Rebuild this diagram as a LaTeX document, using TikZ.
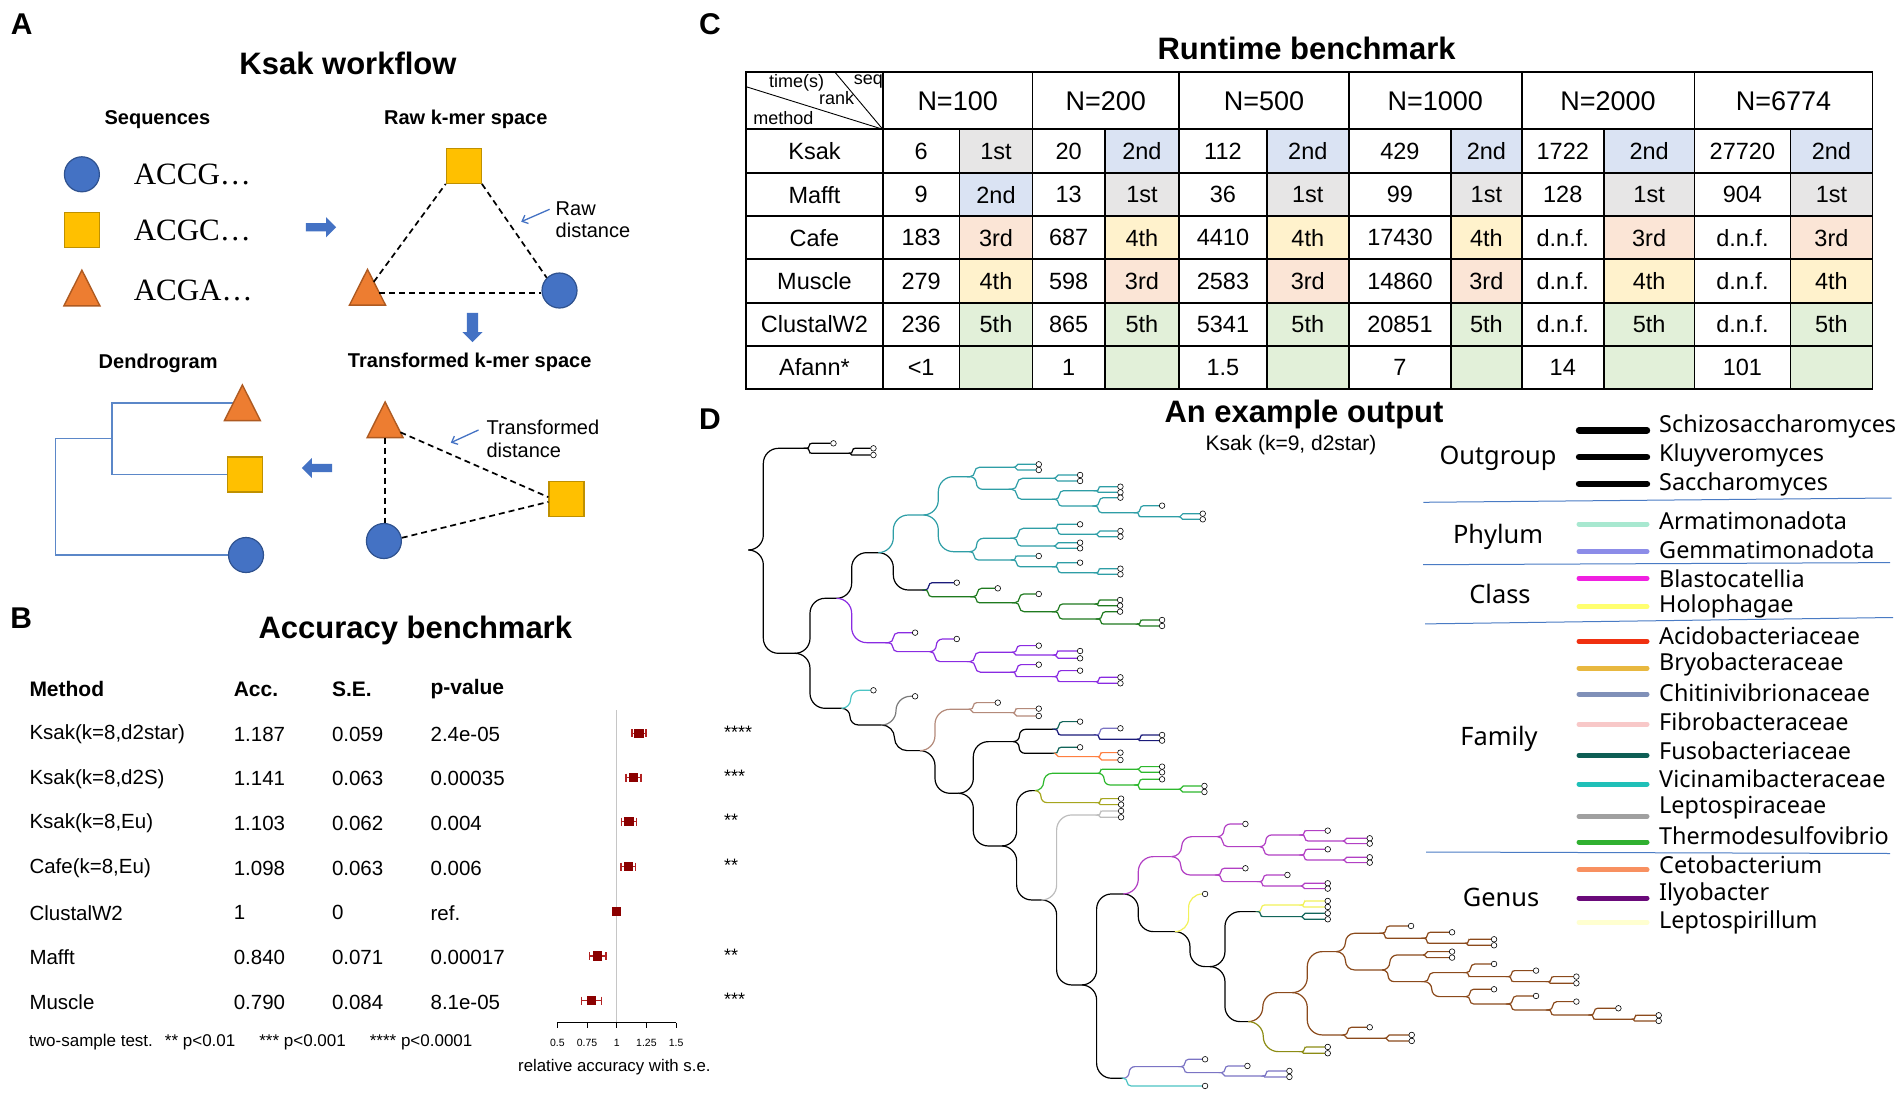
\documentclass[tikz,border=0pt]{standalone}
\usepackage{fontspec}
\setmainfont{Liberation Sans}
\newfontfamily\acgtfont{Liberation Serif}
\newfontfamily\legfont{Noto Sans}
\usetikzlibrary{shapes.arrows,arrows.meta,calc,backgrounds}

\definecolor{ablue}{HTML}{4472C4}
\definecolor{ablueD}{HTML}{2F528F}
\definecolor{agold}{HTML}{FFC000}
\definecolor{agoldD}{HTML}{BF9000}
\definecolor{aorng}{HTML}{ED7D31}
\definecolor{aorngD}{HTML}{AE5A21}
\definecolor{dendro}{HTML}{5B87C8}
\definecolor{dred}{HTML}{8B0000}
\definecolor{ebar}{HTML}{B22222}
\definecolor{rk1st}{HTML}{E7E6E6}
\definecolor{rk2nd}{HTML}{DAE3F3}
\definecolor{rk3rd}{HTML}{FBE5D6}
\definecolor{rk4th}{HTML}{FFF2CC}
\definecolor{rk5th}{HTML}{E2F0D9}
\definecolor{rk}{HTML}{E2F0D9}
\definecolor{sepblue}{HTML}{4A7BC4}
% tree colours
\definecolor{cTeal}{HTML}{2E9EA6}
\definecolor{cNavy}{HTML}{1B1B7A}
\definecolor{cDkGreen}{HTML}{1F7A1F}
\definecolor{cViolet}{HTML}{8A2BE2}
\definecolor{cCyan}{HTML}{4CC4C4}
\definecolor{cGray}{HTML}{7A7A7A}
\definecolor{cRosy}{HTML}{B48A7A}
\definecolor{cDkTeal}{HTML}{12655A}
\definecolor{cOrange}{HTML}{FF7F40}
\definecolor{cGreen}{HTML}{2DB82D}
\definecolor{cOlive}{HTML}{A6A61E}
\definecolor{cLtGray}{HTML}{BDBDBD}
\definecolor{cMagenta}{HTML}{B23FC4}
\definecolor{cYellow}{HTML}{F2F25A}
\definecolor{cBrown}{HTML}{8B4A1C}
\definecolor{cOliveB}{HTML}{8C8C14}
\definecolor{cLav}{HTML}{7B74C4}
% legend colours
\definecolor{lgArm}{HTML}{A8E8D0}
\definecolor{lgGem}{HTML}{8C8CE8}
\definecolor{lgBla}{HTML}{F020E0}
\definecolor{lgHol}{HTML}{FFFF70}
\definecolor{lgAci}{HTML}{F03010}
\definecolor{lgBry}{HTML}{E8B840}
\definecolor{lgChi}{HTML}{8090B8}
\definecolor{lgFib}{HTML}{F8C8C8}
\definecolor{lgFus}{HTML}{0E5E55}
\definecolor{lgVic}{HTML}{20C0B8}
\definecolor{lgLep}{HTML}{A0A0A0}
\definecolor{lgThe}{HTML}{30B030}
\definecolor{lgCet}{HTML}{F89060}
\definecolor{lgIly}{HTML}{6A0A7A}
\definecolor{lgLpl}{HTML}{FFFFD0}

\newcommand{\setfs}[1]{\fontsize{#1}{#1}\selectfont}

% one branch of the cladogram, and one ending in a tip
\newcommand{\twig}[5]{%
  \pgfmathsetmacro\rz{max(0,min(45,abs(#5-#3)/2,(#4-#2)/2))}%
  \pgfmathsetmacro\rr{\rz/3}%
  \draw[branch,color=#1,rounded corners=\rr pt] (#2,#3) -- (#2+\rz,#3) -- (#2+\rz,#5) -- (#4,#5);}
\newcommand{\twigL}[5]{\twig{#1}{#2}{#3}{#4}{#5}\draw[leaf] (#4,#5) ++(2.8pt,0) circle[radius=2.8pt];}
\newcommand{\clade}[3]{%
  \foreach \xa/\ya/\xb/\yb in {#2} {\twig{#1}{\xa}{\ya}{\xb}{\yb}}%
  \foreach \xa/\ya/\xb/\yb in {#3} {\twigL{#1}{\xa}{\ya}{\xb}{\yb}}}

% runtime table
\def\colx{{746.1,882.8,959.5,1032.5,1104.7,1179.2,1266.7,1348.9,1451,1521.7,1603.8,1694.4,1790.4,1872.5}}
\def\rowy{{72.3,129.3,173.3,216,259.3,302.7,346,389}}
\newcommand{\trow}[3]{%
  \pgfmathsetmacro\rya{\rowy[#1]}%
  \pgfmathsetmacro\ryb{\rowy[#1+1]}%
  \pgfmathsetmacro\rym{(\rya+\ryb)/2}%
  \node[cell] (m#1) at (814.45,\rym) {#2};%
  \foreach \t/\rk [count=\j] in {#3} {%
    \pgfmathsetmacro\cxa{\colx[2*\j-1]}%
    \pgfmathsetmacro\cxb{\colx[2*\j]}%
    \pgfmathsetmacro\cxc{\colx[2*\j+1]}%
    \fill[fill=rk\rk] (\cxb,\rya) rectangle (\cxc,\ryb);
    \node[cell] (t#1-\j) at ({(\cxa+\cxb)/2},\rym) {\t};
    \node[cell] (k#1-\j) at ({(\cxb+\cxc)/2},\rym) {\rk};
  }}

\newcommand{\mktri}[3]{%
  \node[trbox] (#1) at (#2,#3) {};
  \filldraw[fill=aorng, draw=aorngD, line width=1.4pt] (#1.south west) -- (#1.south east) -- (#1.north) -- cycle;}

\begin{document}
\begin{tikzpicture}[x=1pt,y=-1pt,
  lbl/.style={font=\bfseries\setfs{30}, inner sep=0pt},
  ttl/.style={font=\bfseries\setfs{31}, inner sep=0pt},
  hdr/.style={font=\bfseries\setfs{20}, inner sep=0pt},
  note/.style={font=\setfs{20}, inner sep=0pt, anchor=west},
  seqt/.style={font=\acgtfont\setfs{31}, inner sep=0pt, anchor=west},
  bub/.style={circle, fill=ablue, draw=ablueD, line width=1.2pt, minimum size=35pt, inner sep=0pt},
  sqr/.style={rectangle, fill=agold, draw=agoldD, line width=1.2pt, minimum size=35pt, inner sep=0pt},
  trbox/.style={rectangle, minimum width=35.6pt, minimum height=35.3pt, inner sep=0pt},
  barr/.style={single arrow, fill=ablue, draw=none, inner xsep=0pt, single arrow head indent=0pt},
  dist/.style={dash pattern=on 6pt off 4pt, line width=1.7pt},
  ptr/.style={-{Straight Barb[length=5pt,width=9pt]}, ablue, line width=1.3pt},
  dend/.style={dendro, line width=1.4pt},
  colh/.style={font=\bfseries\setfs{21}, inner sep=0pt, anchor=west},
  rowt/.style={font=\setfs{20.5}, inner sep=0pt, anchor=west},
  errb/.style={ebar, line width=1.3pt},
  star/.style={font=\setfs{18}, inner sep=0pt, anchor=west},
  tick/.style={font=\setfs{10.5}, inner sep=0pt},
  cell/.style={font=\setfs{23.5}, inner sep=0pt},
  nhead/.style={font=\setfs{27}, inner sep=0pt},
  corner/.style={font=\setfs{18}, inner sep=0pt},
  grid/.style={line width=1.8pt, line cap=rect},
  branch/.style={line width=1.2pt},
  leaf/.style={draw=black, fill=white, line width=0.6pt},
  leg/.style={font=\legfont\setfs{23.4}, inner sep=0pt, anchor=west},
  grp/.style={font=\legfont\setfs{25.4}, inner sep=0pt},
  sep/.style={sepblue, line width=1pt}]
\useasboundingbox (0,0) rectangle (1904,1100);
\begin{pgfonlayer}{background}
\fill[white] (0,0) rectangle (1904,1100);
\end{pgfonlayer}

%% A: workflow
\node[lbl] (la) at (21.7,24) {A};
\node[ttl] (ta) at (348,63.3) {Ksak workflow};
\node[hdr] (hseq) at (157.4,120) {Sequences};
\node[hdr] (hraw) at (465.8,119.3) {Raw k-mer space};
\node[hdr] (hden) at (158.2,363.3) {Dendrogram};
\node[hdr] (htr) at (469.7,362.7) {Transformed k-mer space};

\node[bub] (c1) at (81.9,174.3) {};
\node[sqr] (q1) at (81.9,229.8) {};
\mktri{t1}{81.9}{288}
\node[seqt] (s1) at (133.6,174.3) {ACCG…};
\node[seqt] (s2) at (133.6,230) {ACGC…};
\node[seqt] (s3) at (133.6,290) {ACGA…};

\node[sqr] (q2) at (463.8,165.8) {};
\mktri{t2}{367.5}{287.2}
\node[bub] (c2) at (559.5,290.5) {};
\coordinate (t2r) at ($(t2.north)!0.66!(t2.south east)$);
\draw[dist] ($(t2.north)!0.35!(t2.south east)$) -- (q2.south west);
\draw[dist] (q2.south east) -- (c2.north west);
\draw[dist] (t2r) -- (t2r -| c2.west);
\node[note] (nr1) at (555.5,208.3) {Raw};
\node[note] (nr2) at (555.5,230) {distance};
\coordinate (pr1) at (549.6,209.3);
\coordinate (pr2) at (521.2,221.7);
\draw[ptr] (pr1) -- (pr2);

\node[barr, inner ysep=3.9pt, single arrow head extend=6pt, minimum height=30.3pt] (ar) at (318.9,227.3) {};
\node[barr, inner ysep=5.5pt, single arrow head extend=4.5pt, minimum height=29.3pt, rotate=-90] (ad) at (472.5,324.7) {};
\node[barr, inner ysep=3.9pt, single arrow head extend=6pt, minimum height=30.3pt, rotate=180] (al) at (319,468) {};

\mktri{t3}{385.1}{419.8}
\node[sqr] (q3) at (566.5,499) {};
\node[bub] (c3) at (383.9,541) {};
\draw[dist] ($(t3.north)!0.85!(t3.south east)$) -- ($(q3.south west)!0.55!(q3.north west)$);
\draw[dist] (t3.south) -- (t3.south |- c3.north);
\draw[dist] (c3.10) -- ($(q3.south west)!0.42!(q3.north west)$);
\node[note] (nt1) at (486.4,427.3) {Transformed};
\node[note] (nt2) at (486.4,450.7) {distance};
\coordinate (pt1) at (478.5,430);
\coordinate (pt2) at (450.8,442.7);
\draw[ptr] (pt1) -- (pt2);

\mktri{t4}{242.4}{402.8}
\node[sqr] (q4) at (244.6,474.5) {};
\node[bub] (c4) at (246,555) {};
\begin{pgfonlayer}{background}
\coordinate (j1) at (111.9,438.3);
\coordinate (j0) at (55.4,496.3);
\draw[dend] (t4.center) -| (j1) |- (q4.center);
\draw[dend] (j1) -| (j0) |- (c4.center);
\end{pgfonlayer}

%% B: accuracy
\node[lbl] (lb) at (21.2,618.3) {B};
\node[ttl] (tb) at (415.3,630) {Accuracy benchmark};
\node[colh] (hm) at (29.3,689.3) {Method};
\node[colh] (ha) at (233.6,689.3) {Acc.};
\node[colh] (hs) at (331.8,689.3) {S.E.};
\node[colh] (hp) at (430.4,689.3) {p-value};
\foreach \m/\a/\s/\p [count=\i] in {{Ksak(k=8,d2star)}/1.187/0.059/2.4e-05, {Ksak(k=8,d2S)}/1.141/0.063/0.00035, {Ksak(k=8,Eu)}/1.103/0.062/0.004, {Cafe(k=8,Eu)}/1.098/0.063/0.006, ClustalW2/1/0/ref., Mafft/0.840/0.071/0.00017, Muscle/0.790/0.084/8.1e-05}
{
  \pgfmathsetmacro\ry{734+(\i-1)*44.7}
  \node[rowt] (bm\i) at (29.3,\ry) {\m};
  \node[rowt] (ba\i) at (233.6,\ry) {\a};
  \node[rowt] (bs\i) at (331.8,\ry) {\s};
  \node[rowt] (bp\i) at (430.4,\ry) {\p};
}
\draw[gray!45, line width=0.8pt] (616.7,710) -- (616.7,1022.7);
\draw[line width=1pt] (557.3,1022.7) -- (676,1022.7);
\foreach \v in {0.5,0.75,1,1.25,1.5} {
  \pgfmathsetmacro\tx{616.7+(\v-1)*118.7}
  \draw[line width=1pt] (\tx,1022.7) -- ++(0,5.7);
  \node[tick] at (\tx,1042.7) {\v};
}
\foreach \v/\e/\yy/\st [count=\i] in {1.187/0.059/733.3/****, 1.141/0.063/777.7/***, 1.103/0.062/821.7/**, 1.098/0.063/866.7/**, 1/0/911.7/{}, 0.840/0.071/956/**, 0.790/0.084/1000.7/***}
{
  \pgfmathsetmacro\px{616.7+(\v-1)*118.7}
  \pgfmathsetmacro\pe{\e*118.7}
  \draw[errb] (\px-\pe,\yy) -- (\px+\pe,\yy);
  \draw[errb] (\px-\pe,\yy-4) -- (\px-\pe,\yy+4);
  \draw[errb] (\px+\pe,\yy-4) -- (\px+\pe,\yy+4);
  \fill[dred] (\px-4.6,\yy-4.6) rectangle (\px+4.6,\yy+4.6);
  \node[star] (st\i) at (724,\yy-1) {\st};
}
\node[font=\setfs{16.8}, inner sep=0pt] (xl) at (614.4,1067) {relative accuracy with s.e.};
\node[font=\setfs{17}, inner sep=0pt, anchor=west] (fn) at (29,1042) {two-sample test.\hspace{12pt}** p<0.01\hspace{24pt}*** p<0.001\hspace{24pt}**** p<0.0001};

%% C: runtime
\node[lbl] (lc) at (710,24) {C};
\node[ttl] (tc) at (1306.6,48.3) {Runtime benchmark};
\trow{1}{Ksak}{6/1st,20/2nd,112/2nd,429/2nd,1722/2nd,27720/2nd}
\trow{2}{Mafft}{9/2nd,13/1st,36/1st,99/1st,128/1st,904/1st}
\trow{3}{Cafe}{183/3rd,687/4th,4410/4th,17430/4th,d.n.f./3rd,d.n.f./3rd}
\trow{4}{Muscle}{279/4th,598/3rd,2583/3rd,14860/3rd,d.n.f./4th,d.n.f./4th}
\trow{5}{ClustalW2}{236/5th,865/5th,5341/5th,20851/5th,d.n.f./5th,d.n.f./5th}
\trow{6}{Afann*}{<1/{},1/{},1.5/{},7/{},14/{},101/{}}
\foreach \n [count=\j] in {100,200,500,1000,2000,6774} {
  \pgfmathsetmacro\hxa{\colx[2*\j-1]}
  \pgfmathsetmacro\hxb{\colx[2*\j+1]}
  \node[nhead] (n\j) at ({(\hxa+\hxb)/2},100.8) {N=\n};
}
\foreach \i in {0,...,7} {\pgfmathsetmacro\gy{\rowy[\i]}\draw[grid] (746.1,\gy) -- (1872.5,\gy);}
\foreach \i in {0,1,3,5,7,9,11,13} {\pgfmathsetmacro\gx{\colx[\i]}\draw[grid] (\gx,72.3) -- (\gx,389);}
\foreach \i in {2,4,6,8,10,12} {\pgfmathsetmacro\gx{\colx[\i]}\draw[grid] (\gx,129.3) -- (\gx,389);}
\draw[line width=0.9pt] (746.1,86.7) -- (882.8,129.3);
\draw[line width=0.9pt] (835,72.3) -- (882.8,129.3);
\node[corner] (ct) at (796.7,83.3) {time(s)};
\node[corner] (cr) at (836.7,98.3) {rank};
\node[corner] (cs) at (868.3,81.7) {seq};
\node[corner] (cm) at (783.3,118.3) {method};

%% D: example tree
\node[lbl] (ld) at (710,419) {D};
\node[ttl] (td) at (1304,414) {An example output};
\node[font=\setfs{21}, inner sep=0pt] (tsub) at (1291,445) {Ksak (k=9, d2star)};

\begin{scope}[shift={(740,420)},x=0.3333pt,y=-0.3333pt]
\clade{black}{25/390/200/85, 25/390/165/700, 200/85/330/100, 165/700/290/535, 165/700/305/865, 290/535/415/398, 415/398/555/510, 305/865/425/915, 425/915/540/992, 540/992/655/1120, 655/1120/820/965, 655/1120/785/1278, 820/965/945/928, 820/965/945/1000, 785/1278/885/1112, 785/1278/905/1440, 905/1440/1025/1695, 1025/1695/1150/1422, 1025/1695/1150/1975, 1150/1422/1305/1535, 1305/1535/1410/1640, 1410/1640/1554/1475, 1410/1640/1525/1805}{200/85/272/70, 330/100/392/85, 330/100/392/105}
\clade{cTeal}{415/398/550/285, 550/285/690/170, 550/285/690/395, 690/170/825/142, 690/170/815/208, 815/208/945/175, 815/208/945/238, 945/238/1070/212, 945/238/1065/258, 1065/258/1190/278, 1190/278/1320/290, 690/395/820/355, 820/355/945/325, 945/325/1070/343, 820/355/945/378, 690/395/820/420, 820/420/945/440, 945/440/1070/458}{825/142/888/133, 825/142/888/150, 945/175/1012/165, 945/175/1012/183, 1070/212/1133/200, 1070/212/1133/217, 1065/258/1133/233, 1190/278/1258/257, 1320/290/1380/281, 1320/290/1380/298, 945/325/1012/313, 1070/343/1133/333, 1070/343/1133/350, 945/378/1012/368, 945/378/1012/385, 820/420/888/408, 945/440/1012/428, 1070/458/1133/446, 1070/458/1133/463}
\twigL{cNavy}{555}{510}{642}{488}
\clade{cDkGreen}{555/510/700/530, 700/530/825/548, 825/548/945/575, 945/575/1070/552, 945/575/1075/597, 1075/597/1195/612}{700/530/765/505, 825/548/888/522, 1070/552/1132/540, 1070/552/1132/557, 1075/597/1132/575, 1195/612/1258/600, 1195/612/1258/618}
\clade{cViolet}{290/535/445/668, 445/668/570/695, 570/695/690/725, 690/725/820/697, 820/697/945/705, 690/725/820/757, 820/757/945/770, 945/770/1070/785}{445/668/517/638, 570/695/642/657, 820/697/888/677, 945/705/1012/693, 945/705/1012/715, 820/757/888/734, 945/770/1012/752, 1070/785/1133/772, 1070/785/1133/790}
\twigL{cCyan}{305}{865}{392}{811}
\twigL{cGray}{425}{915}{517}{829}
\clade{cRosy}{540/992/690/868, 690/868/820/878}{690/868/765/848, 820/878/888/866, 820/878/888/888}
\twigL{cDkTeal}{945}{928}{1012}{905}
\twigL{cDkTeal}{945}{1000}{1012}{982}
\clade{cNavy}{945/928/1070/945, 1070/945/1195/958}{1195/958/1258/945, 1195/958/1258/962}
\twigL{cLav}{1070}{945}{1133}{925}
\clade{cOrange}{945/1000/1075/1010}{1075/1010/1133/998, 1075/1010/1133/1020}
\clade{cGreen}{885/1112/1075/1060, 1075/1060/1195/1048, 1075/1060/1190/1095, 1190/1095/1320/1108}{1195/1048/1258/1040, 1195/1048/1258/1057, 1190/1095/1258/1078, 1320/1108/1385/1098, 1320/1108/1385/1116}
\clade{cOlive}{885/1112/1075/1148}{1075/1148/1135/1136, 1075/1148/1135/1154}
\clade{cLtGray}{905/1440/1075/1185}{1075/1185/1135/1173, 1075/1185/1135/1192}
\clade{cMagenta}{1150/1422/1295/1310, 1295/1310/1433/1250, 1433/1250/1560/1280, 1560/1280/1686/1245, 1686/1245/1812/1263, 1560/1280/1686/1305, 1686/1305/1812/1320, 1295/1310/1433/1365, 1433/1365/1560/1385, 1560/1385/1686/1398}{1433/1250/1508/1212, 1686/1245/1755/1232, 1812/1263/1881/1255, 1812/1263/1881/1271, 1686/1305/1755/1288, 1812/1320/1881/1312, 1812/1320/1881/1328, 1433/1365/1508/1345, 1560/1385/1634/1365, 1686/1398/1755/1390, 1686/1398/1755/1406}
\twigL{cYellow}{1305}{1535}{1387}{1422}
\clade{cYellow}{1554/1475/1686/1455}{1686/1455/1755/1443, 1686/1455/1755/1461}
\clade{cDkTeal}{1554/1475/1686/1490}{1686/1490/1755/1480, 1686/1490/1755/1498}
\clade{cBrown}{1525/1805/1657/1718, 1657/1718/1789/1595, 1657/1718/1812/1845, 1812/1845/1938/1855, 1789/1595/1927/1540, 1927/1540/2053/1555, 2053/1555/2179/1570, 1789/1595/1927/1650, 1927/1650/2053/1605, 1927/1650/2053/1685, 2053/1685/2179/1658, 2179/1658/2306/1670, 2306/1670/2426/1685, 2053/1685/2179/1730, 2179/1730/2306/1752, 2306/1752/2426/1770, 2426/1770/2553/1785, 2553/1785/2679/1798}{1812/1845/1881/1822, 1938/1855/2007/1845, 1938/1855/2007/1863, 1927/1540/2005/1518, 2053/1555/2128/1537, 2179/1570/2254/1558, 2179/1570/2254/1576, 2053/1605/2128/1595, 2053/1605/2128/1613, 2179/1658/2254/1632, 2306/1670/2380/1652, 2426/1685/2501/1670, 2426/1685/2501/1690, 2179/1730/2254/1708, 2306/1752/2380/1728, 2426/1770/2501/1745, 2553/1785/2627/1765, 2679/1798/2748/1786, 2679/1798/2748/1803}
\clade{cOliveB}{1525/1805/1686/1895}{1686/1895/1755/1881, 1686/1895/1755/1900}
\clade{cLav}{1150/1975/1324/1940, 1324/1940/1445/1958, 1445/1958/1571/1968}{1324/1940/1387/1918, 1445/1958/1514/1938, 1571/1968/1640/1953, 1571/1968/1640/1971}
\twigL{cCyan}{1150}{1975}{1387}{1998}
\end{scope}

% legend
\foreach \nm/\cl/\yy/\ly/\lw [count=\i] in {Schizosaccharomyces/black/426.7/430.3/6.4, Kluyveromyces/black/455.3/457/6.4, Saccharomyces/black/484.5/483.8/6.4, Armatimonadota/lgArm/521.2/524/5, Gemmatimonadota/lgGem/549.7/551.5/5, Blastocatellia/lgBla/578.3/578.3/5, Holophagae/lgHol/606.8/606.8/5, Acidobacteriaceae/lgAci/636/641.4/5, Bryobacteraceae/lgBry/664.5/668.1/5, Chitinivibrionaceae/lgChi/693/694.1/5, Fibrobacteraceae/lgFib/721.9/724.4/5, Fusobacteriaceae/lgFus/750.4/755.4/5, Vicinamibacteraceae/lgVic/779/784/5, Leptospiraceae/lgLep/807.5/816.4/5, Thermodesulfovibrio/lgThe/835.7/842/5, Cetobacterium/lgCet/865.2/869.9/5, Ilyobacter/lgIly/894.5/898/5, Leptospirillum/lgLpl/922.3/922.3/5}
{
  \draw[color=\cl, line width=\lw pt, line cap=round] (1579,\ly) -- (1647,\ly);
  \node[leg] (lg\i) at (1659,\yy) {\nm};
}
\draw[sep] (1423.3,502.3) -- (1891.7,498);
\draw[sep] (1423,564.7) -- (1890,562.6);
\draw[sep] (1425,623.9) -- (1893,617.5);
\draw[sep] (1426,852) -- (1890,853.5);
\node[grp] (gO) at (1498,458.8) {Outgroup};
\node[grp] (gP) at (1498,537.3) {Phylum};
\node[grp] (gC) at (1500,594.3) {Class};
\node[grp] (gF) at (1499,738.7) {Family};
\node[grp] (gG) at (1501,897.3) {Genus};
\end{tikzpicture}
\end{document}
